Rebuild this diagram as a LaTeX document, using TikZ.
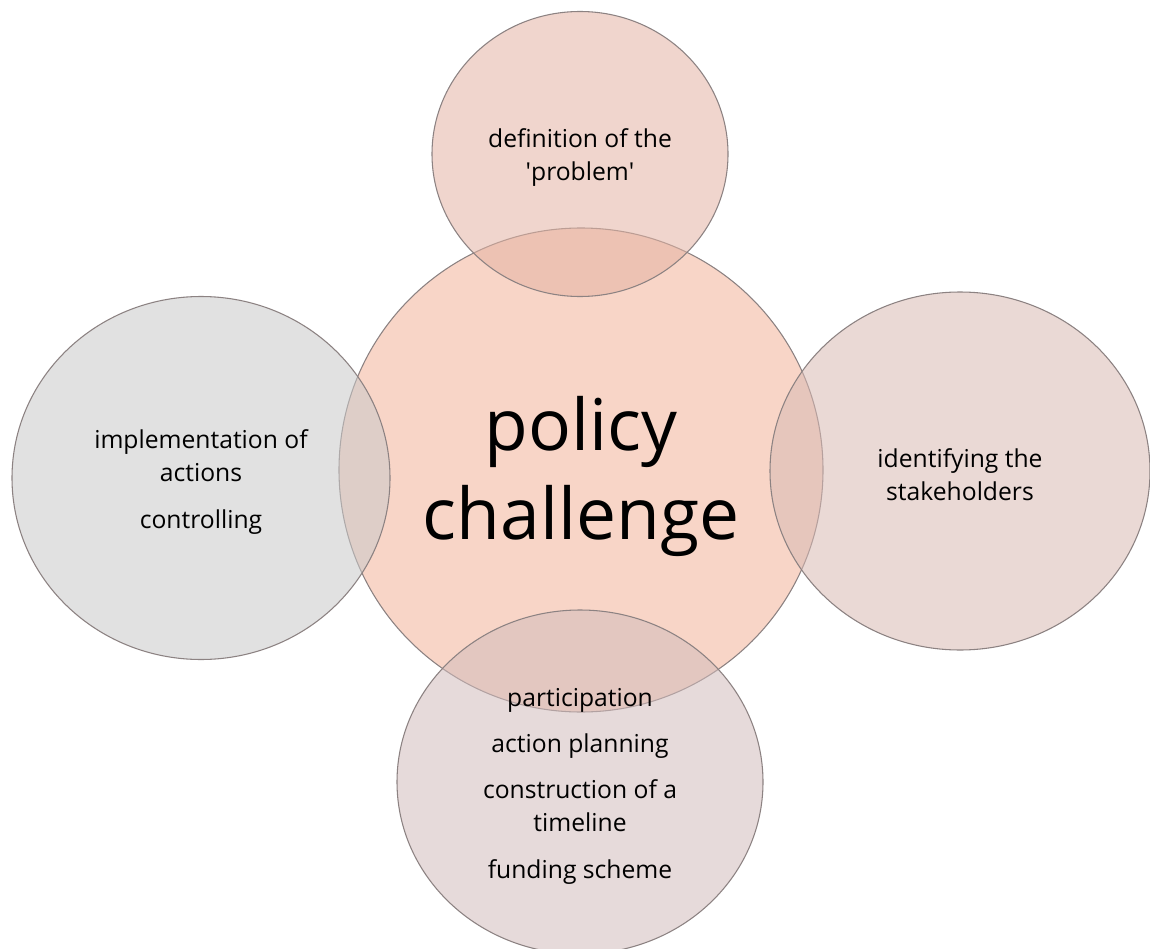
\documentclass[tikz,border=0pt]{standalone}
\usepackage{fontspec}
\setmainfont{Open Sans}
\usetikzlibrary{shapes.geometric}
\definecolor{cmain}{RGB}{244,180,154}
\definecolor{ctop}{RGB}{228,180,164}
\definecolor{cleft}{RGB}{202,202,202}
\definecolor{cright}{RGB}{217,186,180}
\definecolor{cbottom}{RGB}{210,188,188}
\definecolor{cedge}{RGB}{140,130,130}
\tikzset{
  venn/.style={ellipse, draw=cedge, line width=0.8pt, fill opacity=0.55, inner sep=0pt},
  vtext/.style={inner sep=0pt, align=center, yshift=-3pt, font=\fontsize{18.5}{24.75}\selectfont},
}
\begin{document}
\begin{tikzpicture}[x=0.75pt,y=-0.75pt]
\useasboundingbox (0,0) rectangle (1150,949);
\clip (0,0) rectangle (1150,949);
\fill[white] (0,0) rectangle (1150,949);
\node[venn, fill=cmain, minimum width=484*0.75pt, minimum height=484*0.75pt] (main) at (581,470) {};
\node[venn, fill=ctop, minimum width=296*0.75pt, minimum height=285*0.75pt] (top) at (580,154) {};
\node[venn, fill=cleft, minimum width=378*0.75pt, minimum height=363*0.75pt] (left) at (201,478) {};
\node[venn, fill=cright, minimum width=380*0.75pt, minimum height=358*0.75pt] (right) at (960,471) {};
\node[venn, fill=cbottom, minimum width=366*0.75pt, minimum height=344*0.75pt] (bottom) at (580,782) {};
\node[vtext, yshift=-2pt, font=\fontsize{53.5}{67}\selectfont] (maintext) at (main.center) {policy\\challenge};
\node[vtext] (toptext) at (top.center) {definition of the\\\textquotesingle problem\textquotesingle};
\node[vtext] (lefttext) at (left.center) {implementation of\\actions\\[10pt]controlling};
\node[vtext] (righttext) at (right.center) {identifying the\\stakeholders};
\node[vtext] (bottomtext) at (bottom.center) {participation\\[10pt]action planning\\[10pt]construction of a\\timeline\\[10pt]funding scheme};
\end{tikzpicture}
\end{document}
